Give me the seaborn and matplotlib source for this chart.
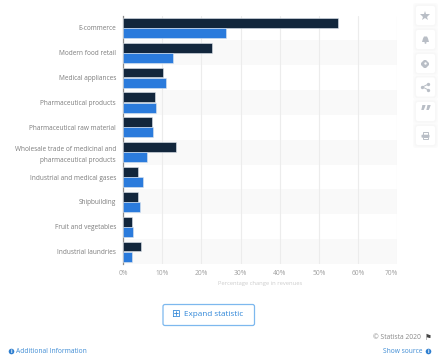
import matplotlib
matplotlib.use("Agg")
import matplotlib.pyplot as plt
from matplotlib.patches import FancyBboxPatch, Circle, Rectangle, Polygon
import pandas as pd
import seaborn as sns

categories = ["E-commerce", "Modern food retail", "Medical appliances", "Pharmaceutical products",
              "Pharmaceutical raw material", "Wholesale trade of medicinal and\npharmaceutical products",
              "Industrial and medical gases", "Shipbuilding", "Fruit and vegetables", "Industrial laundries"]
series_a = [54.8, 22.8, 10.1, 8.2, 7.4, 13.6, 3.9, 3.9, 2.4, 4.5]
series_b = [26.2, 12.8, 10.9, 8.4, 7.7, 6.2, 5.0, 4.4, 2.6, 2.2]
xticks = [0, 10, 20, 30, 40, 50, 60, 70]

W, H = 439, 357
ICON = "#b9bec6"
sns.set_theme(style="white")
plt.rcParams["font.family"] = ["Open Sans", "DejaVu Sans"]

df = pd.DataFrame({"category": categories * 2,
                   "value": series_a + series_b,
                   "series": ["a"] * 10 + ["b"] * 10})

fig = plt.figure(figsize=(W / 100, H / 100), dpi=100)
ax = fig.add_axes([123 / W, 1 - 264 / H, 274.5 / W, 248.5 / H])

# alternating stripes behind the bars
for i in range(1, 10, 2):
    ax.axhspan(i - 0.5, i + 0.5, color="#f9f9f9", lw=0, zorder=0)

sns.barplot(data=df, y="category", x="value", hue="series", ax=ax,
            palette=["#12263c", "#2b7bdc"], saturation=1, width=0.82, gap=0.03,
            edgecolor="#dfe6ee", linewidth=0.4, legend=False, zorder=3)

ax.set_xlim(0, 70)
ax.set_ylim(9.5, -0.5)
ax.set_xticks(xticks)
ax.set_xticklabels([f"{t}%" for t in xticks], fontsize=4.8, color="#a0a0a0")
ax.get_xticklabels()[-1].set_ha("right")
ax.tick_params(axis="x", length=0, pad=4.5)
ax.tick_params(axis="y", length=0, pad=5, labelsize=4.7, labelcolor="#7c7c7c")
for lab in ax.get_yticklabels():
    lab.set_linespacing(1.7)
ax.set_ylabel("")
ax.set_xlabel("Percentage change in revenues", fontsize=4.15, color="#cccccc", labelpad=2.5)
ax.grid(axis="x", color="#ececec", lw=0.8, zorder=1)
ax.set_axisbelow(True)
sns.despine(ax=ax, top=True, right=True, bottom=True)
ax.spines["left"].set_color("#8c8c8c")
ax.spines["left"].set_linewidth(0.9)

# page furniture in pixel coordinates
over = fig.add_axes([0, 0, 1, 1], zorder=5)
over.set_xlim(0, W)
over.set_ylim(H, 0)
over.axis("off")

over.add_patch(FancyBboxPatch((163, 304.5), 91.5, 21, boxstyle="round,pad=0,rounding_size=2",
                              fc="white", ec="#7db8ee", lw=0.9))
over.text(175, 314.3, "\u229e", fontsize=7.5, color="#2f86d8", family=["DejaVu Sans"],
          ha="center", va="center")
over.text(183.7, 314.5, "Expand statistic", fontsize=5.9, color="#2f86d8", ha="left", va="center")

over.text(421, 337.7, "\u00a9 Statista 2020", fontsize=4.9, color="#888888", ha="right", va="center")
over.text(424.5, 337.5, "\u2691", fontsize=5.5, color="#444444", family=["DejaVu Sans"], ha="left", va="center")
over.text(16.5, 351.5, "Additional Information", fontsize=4.8, color="#3d8bd4", ha="left", va="center")
over.text(423, 351.5, "Show source", fontsize=4.8, color="#3d8bd4", ha="right", va="center")
for cx in (11.5, 428.5):
    over.add_patch(Circle((cx, 351.5), 2.8, fc="#2f7fd0", ec="none"))
    over.text(cx, 351.5, "i", fontsize=3.8, color="white", ha="center", va="center", weight="bold")

# side buttons with a soft shadow
centers = [15.5, 39.5, 63.5, 87, 111.5, 135.5]
X = 425.5
for cy in centers:
    for grow, col in ((3, "#fbfbfb"), (1.5, "#f7f7f7")):
        over.add_patch(FancyBboxPatch((X - 9.5 - grow, cy - 9.5 - grow), 19 + 2 * grow, 19 + 2 * grow,
                                      boxstyle="round,pad=0,rounding_size=3", fc=col, ec="none"))
    over.add_patch(FancyBboxPatch((X - 9.5, cy - 9.5), 19, 19, boxstyle="round,pad=0,rounding_size=2",
                                  fc="white", ec="none"))

# star
over.plot([X], [centers[0]], marker="*", ms=7, color=ICON, mew=0)
# bell
cy = centers[1]
over.add_patch(Polygon([(X - 3.5, cy + 2.5), (X - 2.5, cy - 1), (X - 1.5, cy - 3), (X + 1.5, cy - 3),
                        (X + 2.5, cy - 1), (X + 3.5, cy + 2.5)], fc=ICON, ec="none"))
over.add_patch(Circle((X, cy + 3.3), 1, fc=ICON, ec="none"))
# gear
cy = centers[2]
over.plot([X], [cy], marker="8", ms=5.5, color=ICON, mew=0, zorder=4)
over.add_patch(Circle((X, cy), 1.2, fc="white", ec="none", zorder=5))
# share
cy = centers[3]
over.plot([X + 3, X - 3, X + 3], [cy - 3, cy, cy + 3], color=ICON, lw=0.7, marker="o", ms=2.4, mew=0)
# quotes
cy = centers[4]
over.text(X, cy + 3.5, "\u201d", fontsize=16, color=ICON, weight="bold", ha="center", va="center")
# printer
cy = centers[5]
over.add_patch(Rectangle((X - 2.5, cy - 3.5), 5, 3, fc="none", ec=ICON, lw=0.7))
over.add_patch(FancyBboxPatch((X - 4, cy - 0.8), 8, 3, boxstyle="round,pad=0,rounding_size=0.8", fc=ICON, ec="none"))
over.add_patch(Rectangle((X - 2.5, cy + 1), 5, 2.5, fc="white", ec=ICON, lw=0.7))

fig.savefig("out.png", dpi=100)
